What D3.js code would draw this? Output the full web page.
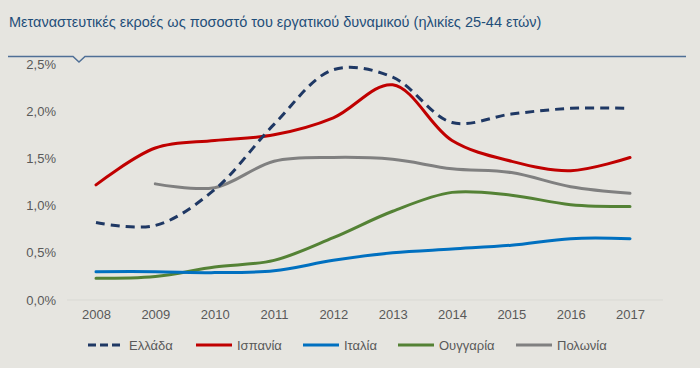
<!DOCTYPE html>
<html><head><meta charset="utf-8">
<script src="https://cdn.jsdelivr.net/npm/d3@7"></script>
<style>
html,body{margin:0;padding:0;background:#e6e5e0;}
svg{display:block;font-family:"Liberation Sans",Arial,sans-serif;}
</style></head>
<body><svg id="c" width="700" height="368"></svg>
<script>
const years = [2008,2009,2010,2011,2012,2013,2014,2015,2016,2017];
const greece  = [0.82,0.79,1.17,1.86,2.44,2.36,1.88,1.97,2.03,2.03];
const spain   = [1.22,1.61,1.69,1.75,1.93,2.28,1.69,1.47,1.37,1.51];
const italy   = [0.30,0.30,0.29,0.31,0.42,0.50,0.54,0.58,0.65,0.65];
const hungary = [0.23,0.25,0.35,0.42,0.66,0.94,1.14,1.11,1.01,0.99];
const poland  = [null,1.23,1.19,1.47,1.51,1.49,1.39,1.35,1.20,1.13];
const yTicks = [0,0.5,1.0,1.5,2.0,2.5];
const seriesNames = ["Ελλάδα","Ισπανία","Ιταλία","Ουγγαρία","Πολωνία"];
const title = "Μεταναστευτικές εκροές ως ποσοστό του εργατικού δυναμικού (ηλικίες 25-44 ετών)";

const series = [
  {name:seriesNames[0], values:greece, color:"#1f3864", dash:"9,6"},
  {name:seriesNames[1], values:spain, color:"#c00000", dash:null},
  {name:seriesNames[2], values:italy, color:"#0070c0", dash:null},
  {name:seriesNames[3], values:hungary, color:"#548235", dash:null},
  {name:seriesNames[4], values:poland, color:"#808080", dash:null}
];

const svg = d3.select("#c");
svg.append("text").attr("x",9).attr("y",27).attr("fill","#1f4e79")
  .attr("font-size",14.5).text(title);
svg.append("path").attr("d","M8,56.5 H73 L79,62 L85,56.5 H686")
  .attr("fill","none").attr("stroke","#4f6f96").attr("stroke-width",1.5);

const x = d3.scalePoint().domain(years).range([96,630]);
const y = d3.scaleLinear().domain([0,2.5]).range([300,64]);

// baseline
svg.append("line").attr("x1",67).attr("x2",663).attr("y1",y(0)).attr("y2",y(0))
  .attr("stroke","#d9d9d4").attr("stroke-width",1);

const yAxis = svg.append("g").attr("transform","translate(56,0)")
  .call(d3.axisLeft(y).tickValues(yTicks).tickSize(0).tickPadding(0)
    .tickFormat(d=>d3.format(".1f")(d).replace(".",",")+"%"));
yAxis.select(".domain").remove();
yAxis.selectAll("text").attr("fill","#595959").attr("font-size",13).attr("font-family","Liberation Sans, Arial, sans-serif");

const xAxis = svg.append("g").attr("transform","translate(0,310)")
  .call(d3.axisBottom(x).tickSize(0).tickPadding(0).tickFormat(d=>d));
xAxis.select(".domain").remove();
xAxis.selectAll("text").attr("fill","#595959").attr("font-size",13).attr("dy","0.71em").attr("font-family","Liberation Sans, Arial, sans-serif");

const line = d3.line().defined(d=>d.v!=null).x(d=>x(d.yr)).y(d=>y(d.v)).curve(d3.curveCatmullRom.alpha(0.5));
series.slice().reverse().forEach(s=>{
  const pts = years.map((yr,i)=>({yr, v:s.values[i]}));
  svg.append("path").datum(pts.filter(p=>p.v!=null)).attr("d",line)
    .attr("fill","none").attr("stroke",s.color).attr("stroke-width",3)
    .attr("stroke-dasharray",s.dash).attr("stroke-linecap", s.dash?"butt":"round");
});

// legend
const legX = [88,196,303,398,516];
const lg = svg.append("g");
series.forEach((s,i)=>{
  lg.append("line").attr("x1",legX[i]).attr("x2",legX[i]+36).attr("y1",345).attr("y2",345)
    .attr("stroke",s.color).attr("stroke-width",3).attr("stroke-dasharray",s.dash?"8,4":null);
  lg.append("text").attr("x",legX[i]+41).attr("y",350).attr("fill","#595959").attr("font-size",13).text(s.name);
});
</script></body></html>
